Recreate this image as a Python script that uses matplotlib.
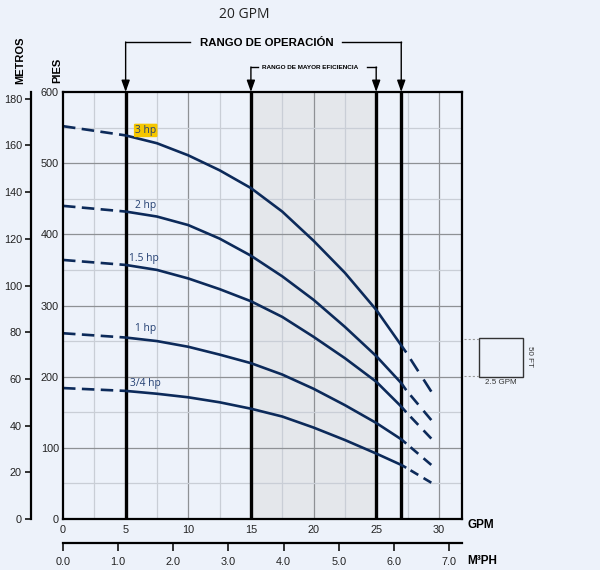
import matplotlib
matplotlib.use("Agg")
import matplotlib.pyplot as plt
import matplotlib.transforms as mtransforms
import numpy as np

plt.rcParams['font.family'] = ['Liberation Sans', 'DejaVu Sans']
plt.rcParams['lines.scale_dashes'] = False

# ---------------- data ----------------
gpm_solid = [5, 7.5, 10, 12.5, 15, 17.5, 20, 22.5, 25, 27, 27.4]
gpm_left = [0, 5]
gpm_right = [27.4, 29.4]

hp_labels = ["3 hp", "2 hp", "1.5 hp", "1 hp", "3/4 hp"]
head_3hp = [539, 528, 511, 490, 465, 432, 391, 346, 294, 244, 234]
head_2hp = [432, 425, 413, 394, 370, 341, 308, 270, 229, 191, 181]
head_15hp = [357, 350, 338, 323, 306, 284, 256, 226, 193, 158, 150]
head_1hp = [255, 250, 242, 231, 219, 203, 183, 160, 135, 112, 106]
head_34hp = [180, 176, 171, 164, 155, 144, 128.5, 111, 92, 76, 72]
head_solid = [head_3hp, head_2hp, head_15hp, head_1hp, head_34hp]

left_start = [552, 440, 364, 261, 184]     # shut-off heads at 0 GPM (dashed)
right_end = [179, 139, 113, 76, 51]        # heads at 29.4 GPM (dashed)

label_pos = [(6.6, 546), (6.6, 440), (6.45, 366), (6.6, 267), (6.55, 190)]

op_range = [5, 27]
eff_range = [15, 25]
gpm_ticks = [0, 5, 10, 15, 20, 25, 30]
pies_ticks = [0, 100, 200, 300, 400, 500, 600]
metros_ticks = [0, 20, 40, 60, 80, 100, 120, 140, 160, 180]
m3ph_ticks = [0, 1, 2, 3, 4, 5, 6, 7]

# ---------------- style ----------------
W, H = 600, 570
BG = '#EDF2FA'
NAVY = '#0C2A5A'
LBL = '#233F72'
XMAX = 31.85
YMAX = 600

fig = plt.figure(figsize=(W / 100, H / 100), dpi=100, facecolor=BG)

def fx(px):
    return px / W

def fy(py):
    return 1 - py / H

ax = fig.add_axes([fx(63), fy(519), fx(462) - fx(63), fy(92) - fy(519)])
ax.set_facecolor(BG)
ax.set_xlim(0, XMAX)
ax.set_ylim(0, YMAX)

# shaded efficiency range
ax.axvspan(eff_range[0], eff_range[1], color='#E4E7EB', zorder=0)

# grid
for x in np.arange(2.5, XMAX, 2.5):
    major = abs(x % 5) < 1e-6
    ax.axvline(x, color='#8E9195' if major else '#C9CED6', lw=0.9, zorder=1)
for y in np.arange(50, YMAX, 50):
    major = y % 100 == 0
    ax.axhline(y, color='#8E9195' if major else '#C9CED6', lw=0.9, zorder=1)

# vertical range lines
for x in [op_range[0], eff_range[0], eff_range[1], op_range[1]]:
    ax.axvline(x, color='black', lw=2.4, zorder=3)

for s in ax.spines.values():
    s.set_linewidth(1.6)
    s.set_zorder(5)

ax.set_xticks(gpm_ticks)
ax.set_xticklabels([str(t) for t in gpm_ticks])
ax.set_yticks(pies_ticks)
ax.set_yticklabels([str(t) for t in pies_ticks])
ax.tick_params(axis='both', length=0, labelsize=7.8, colors='#222222')
ax.tick_params(axis='x', pad=4)
ax.tick_params(axis='y', pad=3)

# curves
fig.canvas.draw()
for i in range(5):
    ax.plot(gpm_solid, head_solid[i], color=NAVY, lw=1.9, zorder=4,
            solid_capstyle='butt', solid_joinstyle='round')
    ax.plot(gpm_left, [left_start[i], head_solid[i][0]], color=NAVY, lw=1.9,
            zorder=4, linestyle=(0, (9.0, 4.6)), dash_capstyle='butt')
    # right dashed tail: two dashes spaced along the segment
    p0 = ax.transData.transform((gpm_right[0], head_solid[i][-1]))
    p1 = ax.transData.transform((gpm_right[1], right_end[i]))
    L = np.hypot(*(p1 - p0)) * 72 / 100
    gi, d, g = 0.17 * L, 0.31 * L, 0.21 * L
    ax.plot(gpm_right, [head_solid[i][-1], right_end[i]], color=NAVY, lw=1.9,
            zorder=4, linestyle=(2 * d + g, (d, g, d, gi)),
            dash_capstyle='butt', clip_on=False)
    lx, ly = label_pos[i]
    kw = dict(fontsize=7.4, color=LBL, ha='center', va='center', zorder=6,
              family=['Open Sans', 'DejaVu Sans'])
    if i == 0:
        kw['bbox'] = dict(boxstyle='round,pad=0.12', fc='#F6C700', ec='none')
    ax.text(lx, ly, hp_labels[i], **kw)

# ---------- metros axis ----------
axm = fig.add_axes([fx(31), fy(519), 0.001, fy(92) - fy(519)])
axm.set_ylim(0, YMAX / 3.28084)
axm.patch.set_alpha(0)
for k in ['top', 'right', 'bottom']:
    axm.spines[k].set_visible(False)
axm.spines['left'].set_linewidth(1.6)
axm.set_xticks([])
axm.set_yticks(metros_ticks)
axm.set_yticklabels([str(t) for t in metros_ticks])
axm.tick_params(axis='y', direction='out', length=4.5, width=1.3,
                labelsize=7.8, colors='#222222', pad=2)

# ---------- m3/h axis ----------
axq = fig.add_axes([fx(63), fy(543), fx(462) - fx(63), 0.001])
axq.set_xlim(0, XMAX / 4.40287)
axq.patch.set_alpha(0)
for k in ['top', 'right', 'left']:
    axq.spines[k].set_visible(False)
axq.spines['bottom'].set_linewidth(1.6)
axq.set_yticks([])
axq.set_xticks(m3ph_ticks)
axq.set_xticklabels([f"{t:.1f}" for t in m3ph_ticks])
axq.tick_params(axis='x', direction='out', length=6, width=1.3,
                labelsize=7.8, colors='#222222', pad=4)

# ---------- axis titles ----------
fig.text(fx(20), fy(60), "METROS", rotation=90, ha='center', va='center',
         fontsize=8, fontweight='bold')
fig.text(fx(57), fy(70), "PIES", rotation=90, ha='center', va='center',
         fontsize=8, fontweight='bold')
fig.text(fx(467), fy(525), "GPM", ha='left', va='center', fontsize=8.5,
         fontweight='bold')
fig.text(fx(467), fy(561), "M³PH", ha='left', va='center', fontsize=8.5,
         fontweight='bold')
fig.text(fx(244), fy(14), "20 GPM", ha='center', va='center', fontsize=10,
         family=['Open Sans', 'DejaVu Sans'], color='#222222')

# ---------- range brackets ----------
blend = mtransforms.blended_transform_factory(ax.transData, fig.transFigure)
arrow_kw = dict(arrowstyle='-|>,head_length=0.7,head_width=0.25', lw=1.0,
                color='black', shrinkA=0, shrinkB=0)

def bracket(x_tip, x_end, ypx):
    ax.plot([x_end, x_tip], [fy(ypx), fy(ypx)], transform=blend,
            color='black', lw=1.0, clip_on=False)
    ax.annotate('', xy=(x_tip, YMAX), xycoords='data',
                xytext=(x_tip, fy(ypx)), textcoords=blend,
                arrowprops=arrow_kw, annotation_clip=False)

bracket(op_range[0], 10.1, 42)
bracket(op_range[1], 22.3, 42)
bracket(eff_range[0], 15.6, 67)
bracket(eff_range[1], 24.25, 67)
ax.text(16.3, fy(43), "RANGO DE OPERACIÓN", transform=blend, ha='center',
        va='center', fontsize=8.2, fontweight='bold')
ax.text(19.7, fy(67.5), "RANGO DE MAYOR EFICIENCIA", transform=blend,
        ha='center', va='center', fontsize=4.6, fontweight='bold')

# ---------- scale box ----------
fig.add_artist(plt.Rectangle((fx(479), fy(377)), fx(523) - fx(479),
                             fy(338) - fy(377), transform=fig.transFigure,
                             fill=False, ec='#333333', lw=1.0))
for ypx in [339, 376]:
    fig.add_artist(plt.Line2D([fx(464), fx(479)], [fy(ypx), fy(ypx)],
                              transform=fig.transFigure, color='#999999',
                              lw=0.8, linestyle=(0, (1.5, 1.5))))
fig.text(fx(501), fy(383), "2.5 GPM", ha='center', va='center', fontsize=5.8,
         color='#333333')
fig.text(fx(530), fy(357), "50 FT", ha='center', va='center', fontsize=5.8,
         rotation=270, color='#333333')

fig.savefig("out.png", dpi=100, facecolor=BG)
